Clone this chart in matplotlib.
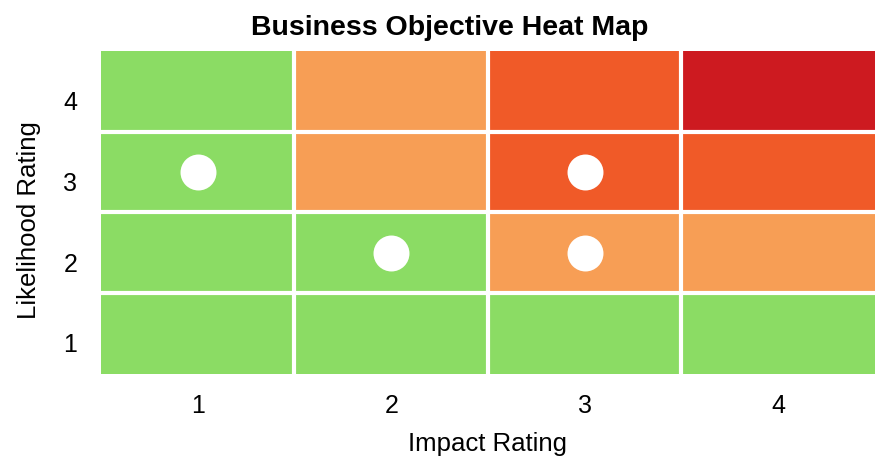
import numpy as np
import matplotlib.pyplot as plt
import matplotlib.transforms as mtransforms
from matplotlib.colors import ListedColormap

plt.rcParams['font.family'] = ['Liberation Sans', 'DejaVu Sans']

# ---- data ----
impact = [1, 2, 3, 4]
likelihood = [1, 2, 3, 4]
# risk level per cell, rows = likelihood 1..4, cols = impact 1..4
# 0 = low, 1 = medium, 2 = high, 3 = critical
levels = np.array([
    [0, 0, 0, 0],
    [0, 0, 1, 1],
    [0, 1, 2, 2],
    [0, 1, 2, 3],
])
obj_impact = [1, 2, 3, 3]
obj_likelihood = [3, 2, 3, 2]

cmap = ListedColormap(["#8BDC64", "#F79E55", "#F05A28", "#CD1A20"])

fig = plt.figure(figsize=(8.75, 4.6), dpi=100)
ax = fig.add_axes([0.1154, 0.185, 0.8846, 0.702])

ax.imshow(levels, cmap=cmap, vmin=-0.5, vmax=3.5, origin="lower", aspect="auto",
          extent=[0.5, 4.5, 0.5, 4.5], interpolation="nearest")
for v in [1.5, 2.5, 3.5]:
    ax.axvline(v, color="white", lw=3)
    ax.axhline(v, color="white", lw=3)

ax.scatter(obj_impact, obj_likelihood, s=670, color="white", zorder=3, linewidths=0)

ax.set_xlim(0.5, 4.5)
ax.set_ylim(0.5, 4.5)
ax.set_xticks(impact)
ax.set_yticks(likelihood)
ax.tick_params(length=0, labelsize=18)
ax.tick_params(axis="x", pad=14)
ax.tick_params(axis="y", pad=17)
for s in ax.spines.values():
    s.set_visible(False)

# y tick labels sit a little below the row centres in the original
shift = mtransforms.ScaledTranslation(0, -6 / 72, fig.dpi_scale_trans)
for lab in ax.get_yticklabels():
    lab.set_transform(lab.get_transform() + shift)

ax.set_xlabel("Impact Rating", fontsize=18.5, labelpad=10)
ax.set_ylabel("Likelihood Rating", fontsize=18.5)
ax.yaxis.set_label_coords(-0.078, 0.478)
ax.set_title("Business Objective Heat Map", fontsize=20.5, fontweight="bold",
             x=0.451, pad=12)

fig.savefig("out.png", dpi=100)
